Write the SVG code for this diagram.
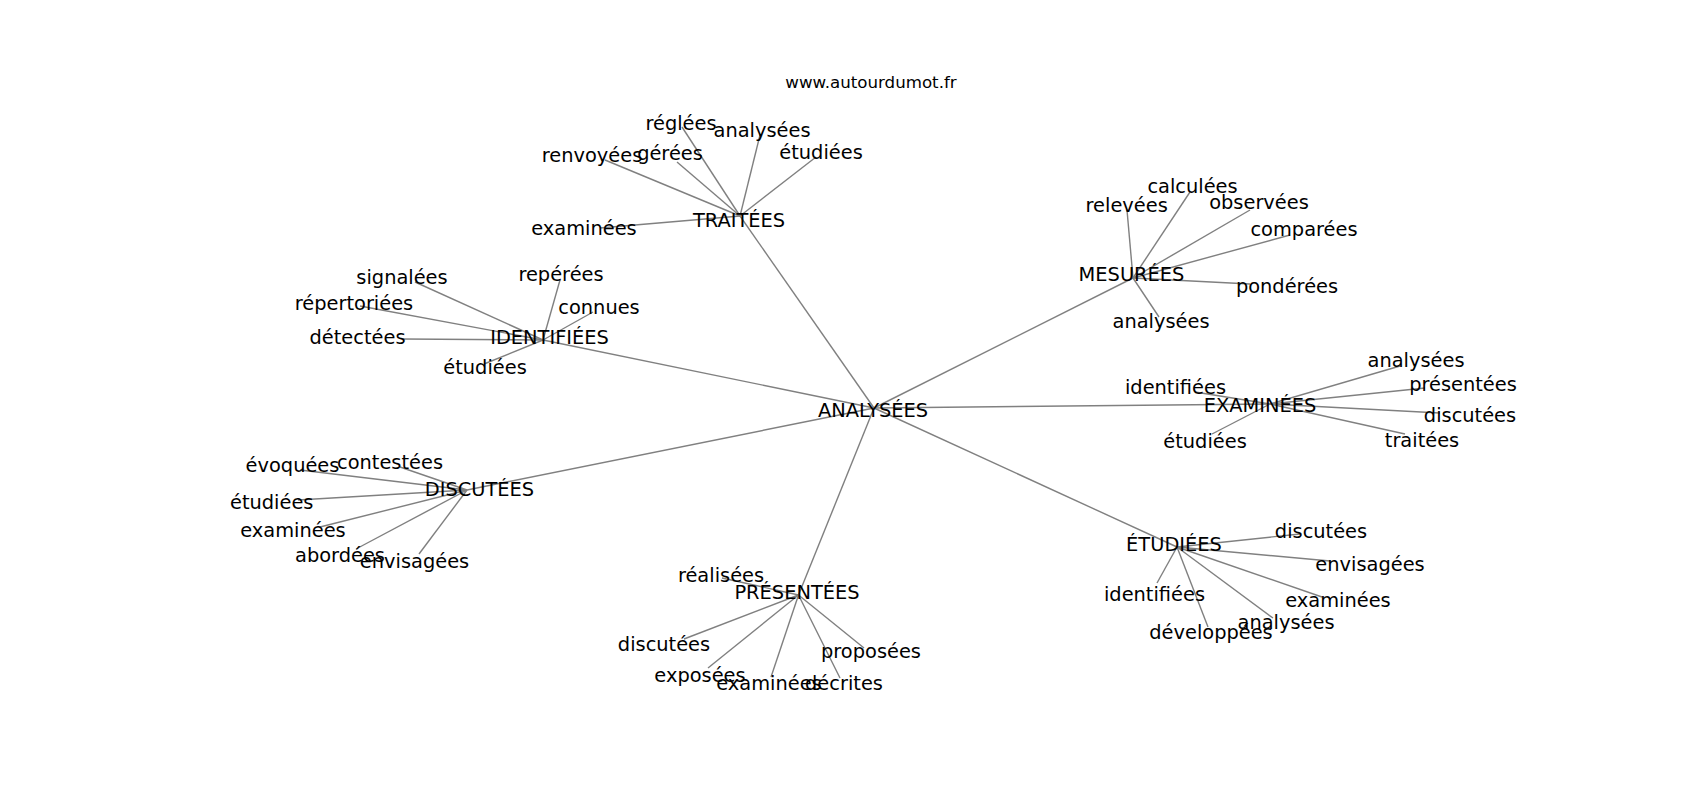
<svg xmlns="http://www.w3.org/2000/svg" width="1700" height="800" viewBox="0 0 1700 800">
<style>
text{font-family:"DejaVu Sans","Liberation Sans",sans-serif;fill:#000;text-anchor:middle}
.l{font-size:19.4px}
.t{font-size:16.67px}
#edges line{stroke:#808080;stroke-width:1.4;stroke-linecap:butt}
</style>
<rect width="1700" height="800" fill="#fff"/>
<text class="t" x="871" y="88">www.autourdumot.fr</text>
<g id="edges">
<line x1="874" y1="408" x2="740" y2="216"/>
<line x1="874" y1="408" x2="543" y2="340"/>
<line x1="874" y1="408" x2="1133" y2="278"/>
<line x1="874" y1="408" x2="1270" y2="404"/>
<line x1="874" y1="408" x2="1177" y2="547"/>
<line x1="874" y1="408" x2="798.5" y2="595"/>
<line x1="874" y1="408" x2="467" y2="490"/>
<line x1="740" y1="216" x2="682" y2="127"/>
<line x1="740" y1="216" x2="760" y2="135"/>
<line x1="740" y1="216" x2="605" y2="160"/>
<line x1="740" y1="216" x2="677" y2="162"/>
<line x1="740" y1="216" x2="816" y2="157"/>
<line x1="740" y1="216" x2="600" y2="228"/>
<line x1="543" y1="340" x2="415" y2="282"/>
<line x1="543" y1="340" x2="560" y2="280"/>
<line x1="543" y1="340" x2="360" y2="306"/>
<line x1="543" y1="340" x2="593" y2="312"/>
<line x1="543" y1="340" x2="403" y2="339"/>
<line x1="543" y1="340" x2="484" y2="364"/>
<line x1="1133" y1="278" x2="1190" y2="192"/>
<line x1="1133" y1="278" x2="1127" y2="210"/>
<line x1="1133" y1="278" x2="1250" y2="210"/>
<line x1="1133" y1="278" x2="1290" y2="235"/>
<line x1="1133" y1="278" x2="1250" y2="284"/>
<line x1="1133" y1="278" x2="1159" y2="317"/>
<line x1="1270" y1="404" x2="1400" y2="366"/>
<line x1="1270" y1="404" x2="1425" y2="388"/>
<line x1="1270" y1="404" x2="1440" y2="413"/>
<line x1="1270" y1="404" x2="1405" y2="434"/>
<line x1="1270" y1="404" x2="1195" y2="392"/>
<line x1="1270" y1="404" x2="1212" y2="434"/>
<line x1="1177" y1="547" x2="1300" y2="534"/>
<line x1="1177" y1="547" x2="1330" y2="561"/>
<line x1="1177" y1="547" x2="1322" y2="597"/>
<line x1="1177" y1="547" x2="1273" y2="618"/>
<line x1="1177" y1="547" x2="1208" y2="627"/>
<line x1="1177" y1="547" x2="1157" y2="583"/>
<line x1="798.5" y1="595" x2="722" y2="578"/>
<line x1="798.5" y1="595" x2="684" y2="639"/>
<line x1="798.5" y1="595" x2="708" y2="668"/>
<line x1="798.5" y1="595" x2="771" y2="677"/>
<line x1="798.5" y1="595" x2="840" y2="678"/>
<line x1="798.5" y1="595" x2="864" y2="648"/>
<line x1="467" y1="490" x2="300" y2="470"/>
<line x1="467" y1="490" x2="400" y2="467"/>
<line x1="467" y1="490" x2="298" y2="500"/>
<line x1="467" y1="490" x2="320" y2="527"/>
<line x1="467" y1="490" x2="356" y2="549"/>
<line x1="467" y1="490" x2="419" y2="554"/>
</g>
<g id="n-analysees"><text class="l" x="873" y="417">ANALYSÉES</text></g>
<g id="n-traitees"><text class="l" x="739" y="227">TRAITÉES</text></g>
<g id="n-traitees-reglees"><text class="l" x="681" y="130">réglées</text></g>
<g id="n-traitees-analysees"><text class="l" x="762" y="137">analysées</text></g>
<g id="n-traitees-renvoyees"><text class="l" x="592" y="162">renvoyées</text></g>
<g id="n-traitees-gerees"><text class="l" x="670" y="160">gérées</text></g>
<g id="n-traitees-etudiees"><text class="l" x="821" y="159">étudiées</text></g>
<g id="n-traitees-examinees"><text class="l" x="584" y="235">examinées</text></g>
<g id="n-identifiees"><text class="l" x="549.5" y="344">IDENTIFIÉES</text></g>
<g id="n-identifiees-signalees"><text class="l" x="402" y="284">signalées</text></g>
<g id="n-identifiees-reperees"><text class="l" x="561" y="281">repérées</text></g>
<g id="n-identifiees-repertoriees"><text class="l" x="354" y="310">répertoriées</text></g>
<g id="n-identifiees-connues"><text class="l" x="599" y="314">connues</text></g>
<g id="n-identifiees-detectees"><text class="l" x="357.5" y="344">détectées</text></g>
<g id="n-identifiees-etudiees"><text class="l" x="485" y="374">étudiées</text></g>
<g id="n-mesurees"><text class="l" x="1131.5" y="281">MESURÉES</text></g>
<g id="n-mesurees-calculees"><text class="l" x="1192.5" y="193">calculées</text></g>
<g id="n-mesurees-relevees"><text class="l" x="1126.7" y="212">relevées</text></g>
<g id="n-mesurees-observees"><text class="l" x="1259" y="209">observées</text></g>
<g id="n-mesurees-comparees"><text class="l" x="1304" y="236">comparées</text></g>
<g id="n-mesurees-ponderees"><text class="l" x="1287" y="293">pondérées</text></g>
<g id="n-mesurees-analysees"><text class="l" x="1161" y="328">analysées</text></g>
<g id="n-examinees"><text class="l" x="1260" y="412">EXAMINÉES</text></g>
<g id="n-examinees-analysees"><text class="l" x="1416" y="367">analysées</text></g>
<g id="n-examinees-presentees"><text class="l" x="1463" y="391">présentées</text></g>
<g id="n-examinees-discutees"><text class="l" x="1470" y="422">discutées</text></g>
<g id="n-examinees-traitees"><text class="l" x="1422" y="447">traitées</text></g>
<g id="n-examinees-identifiees"><text class="l" x="1175.5" y="394">identifiées</text></g>
<g id="n-examinees-etudiees"><text class="l" x="1205" y="448">étudiées</text></g>
<g id="n-etudiees"><text class="l" x="1174" y="551">ÉTUDIÉES</text></g>
<g id="n-etudiees-discutees"><text class="l" x="1321" y="538">discutées</text></g>
<g id="n-etudiees-envisagees"><text class="l" x="1370" y="571">envisagées</text></g>
<g id="n-etudiees-examinees"><text class="l" x="1338" y="607">examinées</text></g>
<g id="n-etudiees-analysees"><text class="l" x="1286" y="629">analysées</text></g>
<g id="n-etudiees-developpees"><text class="l" x="1211" y="639">développées</text></g>
<g id="n-etudiees-identifiees"><text class="l" x="1154.5" y="601">identifiées</text></g>
<g id="n-presentees"><text class="l" x="797" y="599">PRÉSENTÉES</text></g>
<g id="n-presentees-realisees"><text class="l" x="721" y="582">réalisées</text></g>
<g id="n-presentees-discutees"><text class="l" x="664" y="651">discutées</text></g>
<g id="n-presentees-exposees"><text class="l" x="700" y="682">exposées</text></g>
<g id="n-presentees-examinees"><text class="l" x="769" y="690">examinées</text></g>
<g id="n-presentees-decrites"><text class="l" x="844" y="690">décrites</text></g>
<g id="n-presentees-proposees"><text class="l" x="871" y="658">proposées</text></g>
<g id="n-discutees"><text class="l" x="479.5" y="496">DISCUTÉES</text></g>
<g id="n-discutees-evoquees"><text class="l" x="292.5" y="472">évoquées</text></g>
<g id="n-discutees-contestees"><text class="l" x="390" y="469">contestées</text></g>
<g id="n-discutees-etudiees"><text class="l" x="271.7" y="509">étudiées</text></g>
<g id="n-discutees-examinees"><text class="l" x="293" y="537">examinées</text></g>
<g id="n-discutees-abordees"><text class="l" x="340" y="562">abordées</text></g>
<g id="n-discutees-envisagees"><text class="l" x="414.5" y="568">envisagées</text></g>
</svg>
